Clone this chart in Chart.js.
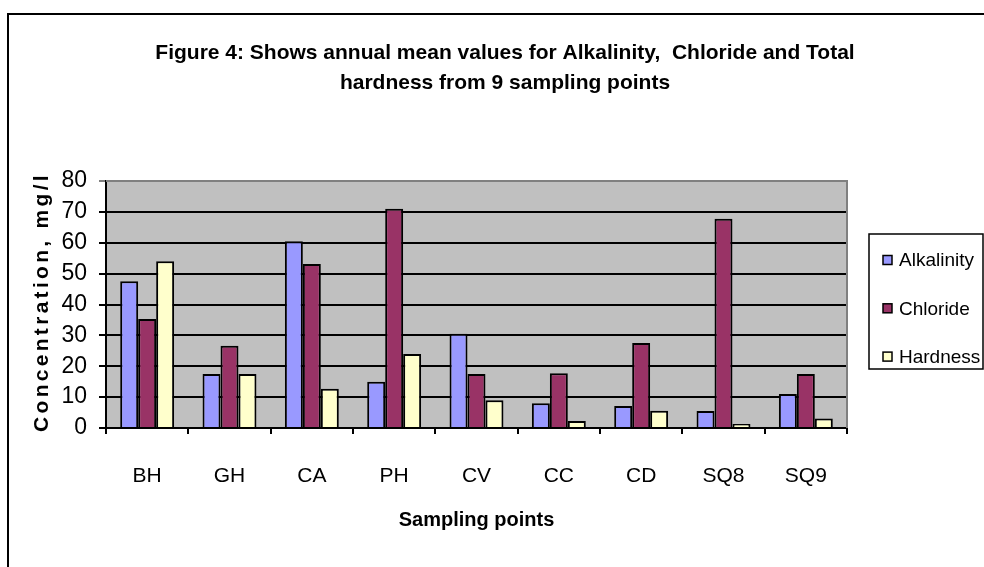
<!DOCTYPE html>
<html>
<head>
<meta charset="utf-8">
<script src="https://cdn.jsdelivr.net/npm/chart.js@4.4.1/dist/chart.umd.min.js"></script>
<style>
    html, body { margin: 0; padding: 0; background: #ffffff; }
    .chart_box { width: 984px; height: 567px; }
</style>
</head>
<body>
<div class="chart_box"><canvas class="mean_chart"></canvas></div>
<script>
"use strict";
// Data
const categories = ["BH", "GH", "CA", "PH", "CV", "CC", "CD", "SQ8", "SQ9"];
const alkalinity = [47.5, 17.5, 60.5, 15, 30.5, 8, 7.1, 5.5, 11];
const chloride = [35.3, 26.6, 53.1, 71, 17.5, 17.7, 27.5, 67.8, 17.5];
const hardness = [54, 17.5, 12.7, 24, 9, 2.3, 5.6, 1.3, 3.1];
const y_ticks = [0, 10, 20, 30, 40, 50, 60, 70, 80];
const series_names = ["Alkalinity", "Chloride", "Hardness"];
const series_colors = ["#9999ff", "#993366", "#ffffcc"];
const title_lines = ["Figure 4: Shows annual mean values for Alkalinity,  Chloride and Total", "hardness from 9 sampling points"];

const font_family = "'Liberation Sans', Arial, sans-serif";

// Frame, Plot Background, Titles And Legend Box
const excel_look = {
    id: "excelLook",
    beforeDraw: (chart) => {
        const { ctx, chartArea } = chart;
        ctx.save();
        ctx.fillStyle = "#ffffff";
        ctx.fillRect(0, 0, chart.width, chart.height);
        ctx.fillStyle = "#c0c0c0";
        ctx.fillRect(chartArea.left, chartArea.top, chartArea.right - chartArea.left, chartArea.bottom - chartArea.top);
        // Outer Frame
        ctx.strokeStyle = "#000000";
        ctx.lineWidth = 2;
        ctx.beginPath();
        ctx.moveTo(8, chart.height);
        ctx.lineTo(8, 14);
        ctx.lineTo(chart.width, 14);
        ctx.stroke();
        ctx.restore();
    },
    beforeDatasetsDraw: (chart) => {
        const { ctx, chartArea } = chart;
        ctx.save();
        ctx.strokeStyle = "#808080";
        ctx.lineWidth = 2;
        ctx.beginPath();
        ctx.moveTo(chartArea.left, chartArea.top);
        ctx.lineTo(chartArea.right, chartArea.top);
        ctx.lineTo(chartArea.right, chartArea.bottom);
        ctx.stroke();
        ctx.restore();
    },
    afterDraw: (chart) => {
        const { ctx } = chart;
        // Chart Title
        ctx.save();
        ctx.fillStyle = "#000000";
        ctx.font = "bold 21px " + font_family;
        ctx.textAlign = "center";
        ctx.textBaseline = "middle";
        title_lines.forEach(function (one_line, index) {
            ctx.fillText(one_line, 505, 53 + index * 30);
        });
        ctx.restore();
        // Y Axis Title With Letter Spacing
        ctx.save();
        ctx.translate(42, 302);
        ctx.rotate(-Math.PI / 2);
        ctx.fillStyle = "#000000";
        ctx.font = "bold 21px " + font_family;
        ctx.letterSpacing = "3.3px";
        ctx.textAlign = "center";
        ctx.textBaseline = "middle";
        ctx.fillText("Concentration, mg/l", 0, 0);
        ctx.restore();
        // Legend
        ctx.save();
        ctx.fillStyle = "#ffffff";
        ctx.fillRect(869, 234, 114, 135);
        ctx.strokeStyle = "#000000";
        ctx.lineWidth = 1.5;
        ctx.strokeRect(869, 234, 114, 135);
        ctx.font = "19px " + font_family;
        ctx.textBaseline = "middle";
        chart.data.datasets.forEach(function (one_dataset, index) {
            const row_y = 260 + index * 48.3;
            ctx.fillStyle = one_dataset.backgroundColor;
            ctx.fillRect(883, row_y - 4.5, 9, 9);
            ctx.strokeRect(883, row_y - 4.5, 9, 9);
            ctx.fillStyle = "#000000";
            ctx.fillText(one_dataset.label, 899, row_y + 1);
        });
        ctx.restore();
    }
};

const mean_chart = document.querySelector(".mean_chart");
new Chart(mean_chart, {
    type: "bar",
    data: {
        labels: categories,
        datasets: [
            { label: series_names[0], data: alkalinity, backgroundColor: series_colors[0] },
            { label: series_names[1], data: chloride, backgroundColor: series_colors[1] },
            { label: series_names[2], data: hardness, backgroundColor: series_colors[2] },
        ]
    },
    options: {
        responsive: true,
        maintainAspectRatio: false,
        animation: false,
        devicePixelRatio: 1,
        layout: {
            padding: { left: 0, right: 137, top: 181, bottom: 0 }
        },
        datasets: {
            bar: {
                borderColor: "#000000",
                borderWidth: 2,
                categoryPercentage: 0.655,
                barPercentage: 1,
            }
        },
        scales: {
            x: {
                afterFit: (scale) => { scale.height = 139; },
                grid: {
                    drawOnChartArea: false,
                    color: "#000000",
                    lineWidth: 2,
                    tickLength: 6,
                    offset: true,
                },
                border: { color: "#000000", width: 2 },
                ticks: {
                    color: "#000000",
                    padding: 30,
                    font: { family: font_family, size: 21 },
                },
                title: {
                    display: true,
                    text: "Sampling points",
                    color: "#000000",
                    font: { family: font_family, size: 20, weight: "bold" },
                    padding: { top: 0, bottom: 35 },
                }
            },
            y: {
                min: 0,
                max: 80,
                afterFit: (scale) => { scale.width = 106; },
                afterBuildTicks: (scale) => {
                    scale.ticks = y_ticks.map(function (one_value) { return { value: one_value }; });
                },
                grid: {
                    color: (context) => context.tick && context.tick.value === 80 ? "#808080" : "#000000",
                    lineWidth: 2,
                    tickLength: 7,
                },
                border: { color: "#000000", width: 2 },
                ticks: {
                    color: "#000000",
                    padding: 12,
                    autoSkip: false,
                    font: { family: font_family, size: 23 },
                },
            }
        },
        plugins: {
            legend: { display: false },
            tooltip: { enabled: false },
            title: { display: false },
        }
    },
    plugins: [excel_look],
});
</script>
</body>
</html>
